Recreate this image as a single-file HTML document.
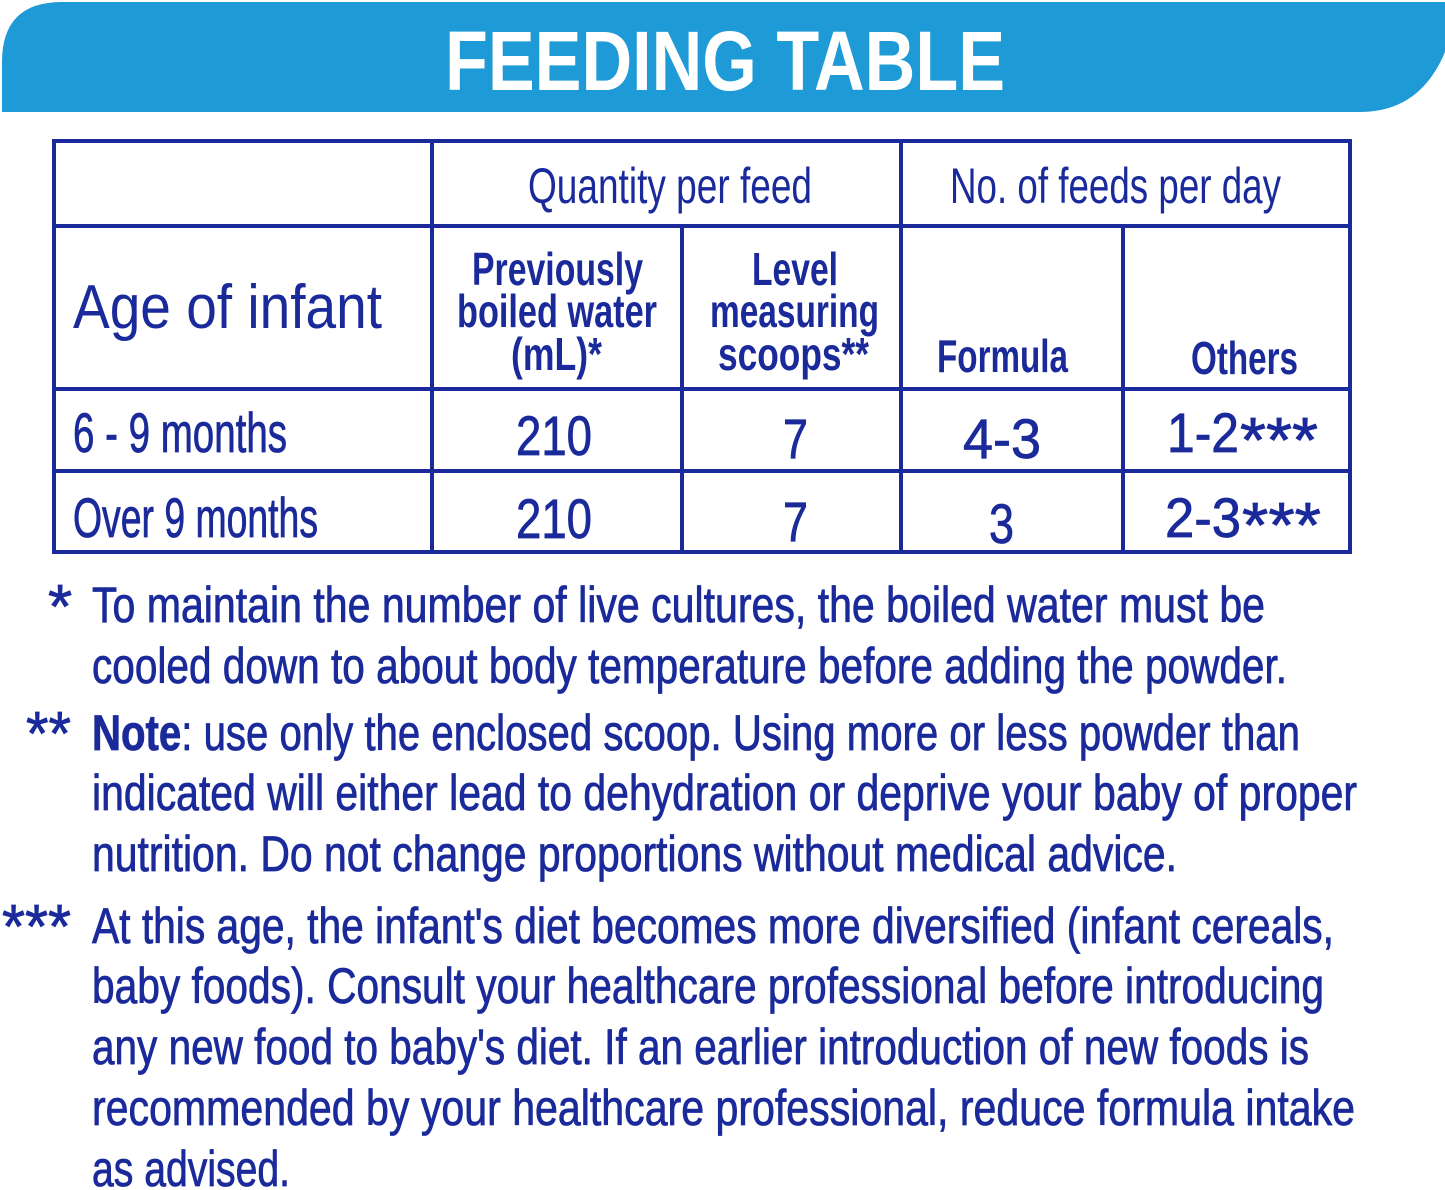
<!DOCTYPE html>
<html><head><meta charset="utf-8"><style>
html,body{margin:0;padding:0;background:#fff;}
svg{display:block}
text{font-family:"Liberation Sans",sans-serif;fill:#1b2a9a}
.b{font-weight:bold}
.m{stroke:#1b2a9a;stroke-width:0.8}
</style></head><body>
<svg width="1445" height="1190" viewBox="0 0 1445 1190" xmlns="http://www.w3.org/2000/svg">
<path d="M2 112 L2 62 Q2 2 62 2 L1445 2 L1445 52 Q1420 112 1360 112 Z" fill="#1e9ad6"/>
<text x="445" y="90" font-size="84" class="b" style="fill:#fff" textLength="560" lengthAdjust="spacingAndGlyphs">FEEDING TABLE</text>
<g stroke="#1b2a9a" stroke-width="4" fill="none">
<rect x="54" y="141" width="1296" height="411"/>
<line x1="54" y1="226" x2="1350" y2="226"/>
<line x1="54" y1="389" x2="1350" y2="389"/>
<line x1="54" y1="471" x2="1350" y2="471"/>
<line x1="432" y1="141" x2="432" y2="552"/>
<line x1="682" y1="226" x2="682" y2="552"/>
<line x1="901" y1="141" x2="901" y2="552"/>
<line x1="1123" y1="226" x2="1123" y2="552"/>
</g>
<text x="528" y="203" font-size="50" textLength="284" lengthAdjust="spacingAndGlyphs">Quantity per feed</text>
<text x="950" y="203" font-size="50" textLength="331" lengthAdjust="spacingAndGlyphs">No. of feeds per day</text>
<text x="73" y="328" font-size="62" textLength="309" lengthAdjust="spacingAndGlyphs">Age of infant</text>
<g font-size="46">
<text x="472" y="285" class="b" textLength="171" lengthAdjust="spacingAndGlyphs">Previously</text>
<text x="457" y="327" class="b" textLength="200" lengthAdjust="spacingAndGlyphs">boiled water</text>
<text x="511" y="370" class="b" textLength="91" lengthAdjust="spacingAndGlyphs">(mL)*</text>
<text x="752" y="285" class="b" textLength="86" lengthAdjust="spacingAndGlyphs">Level</text>
<text x="710" y="327" class="b" textLength="169" lengthAdjust="spacingAndGlyphs">measuring</text>
<text x="718" y="370" class="b" textLength="151" lengthAdjust="spacingAndGlyphs">scoops**</text>
<text x="937" y="372" class="b" textLength="131" lengthAdjust="spacingAndGlyphs">Formula</text>
<text x="1191" y="374" class="b" textLength="107" lengthAdjust="spacingAndGlyphs">Others</text>
</g>
<g font-size="56" class="m">
<text x="73" y="452" textLength="214" lengthAdjust="spacingAndGlyphs">6 - 9 months</text>
<text x="516" y="455" textLength="76" lengthAdjust="spacingAndGlyphs">210</text>
<text x="783" y="458" textLength="25" lengthAdjust="spacingAndGlyphs">7</text>
<text x="963" y="458" textLength="78" lengthAdjust="spacingAndGlyphs">4-3</text>
<text x="1167" y="452" textLength="72" lengthAdjust="spacingAndGlyphs">1-2</text>
<text x="1240" y="462" font-size="64" textLength="78" lengthAdjust="spacingAndGlyphs">***</text>
<text x="73" y="537" textLength="245" lengthAdjust="spacingAndGlyphs">Over 9 months</text>
<text x="516" y="538" textLength="76" lengthAdjust="spacingAndGlyphs">210</text>
<text x="783" y="541" textLength="25" lengthAdjust="spacingAndGlyphs">7</text>
<text x="989" y="543" textLength="25" lengthAdjust="spacingAndGlyphs">3</text>
<text x="1165" y="537" textLength="76" lengthAdjust="spacingAndGlyphs">2-3</text>
<text x="1242" y="547" font-size="64" textLength="79" lengthAdjust="spacingAndGlyphs">***</text>
</g>
<g font-size="50" class="m">
<text x="48" y="628" font-size="62">*</text>
<text x="26" y="755" font-size="62" textLength="45" lengthAdjust="spacingAndGlyphs">**</text>
<text x="2" y="948" font-size="62" textLength="69" lengthAdjust="spacingAndGlyphs">***</text>
<text x="92" y="622" textLength="1173" lengthAdjust="spacingAndGlyphs">To maintain the number of live cultures, the boiled water must be</text>
<text x="92" y="683" textLength="1195" lengthAdjust="spacingAndGlyphs">cooled down to about body temperature before adding the powder.</text>
<text x="92" y="750" textLength="1208" lengthAdjust="spacingAndGlyphs"><tspan class="b">Note</tspan>: use only the enclosed scoop. Using more or less powder than</text>
<text x="92" y="810" textLength="1265" lengthAdjust="spacingAndGlyphs">indicated will either lead to dehydration or deprive your baby of proper</text>
<text x="92" y="871" textLength="1085" lengthAdjust="spacingAndGlyphs">nutrition. Do not change proportions without medical advice.</text>
<text x="92" y="943" textLength="1242" lengthAdjust="spacingAndGlyphs">At this age, the infant's diet becomes more diversified (infant cereals,</text>
<text x="92" y="1003" textLength="1232" lengthAdjust="spacingAndGlyphs">baby foods). Consult your healthcare professional before introducing</text>
<text x="92" y="1064" textLength="1217" lengthAdjust="spacingAndGlyphs">any new food to baby's diet. If an earlier introduction of new foods is</text>
<text x="92" y="1125" textLength="1263" lengthAdjust="spacingAndGlyphs">recommended by your healthcare professional, reduce formula intake</text>
<text x="92" y="1186" textLength="198" lengthAdjust="spacingAndGlyphs">as advised.</text>
</g>
</svg>
</body></html>
